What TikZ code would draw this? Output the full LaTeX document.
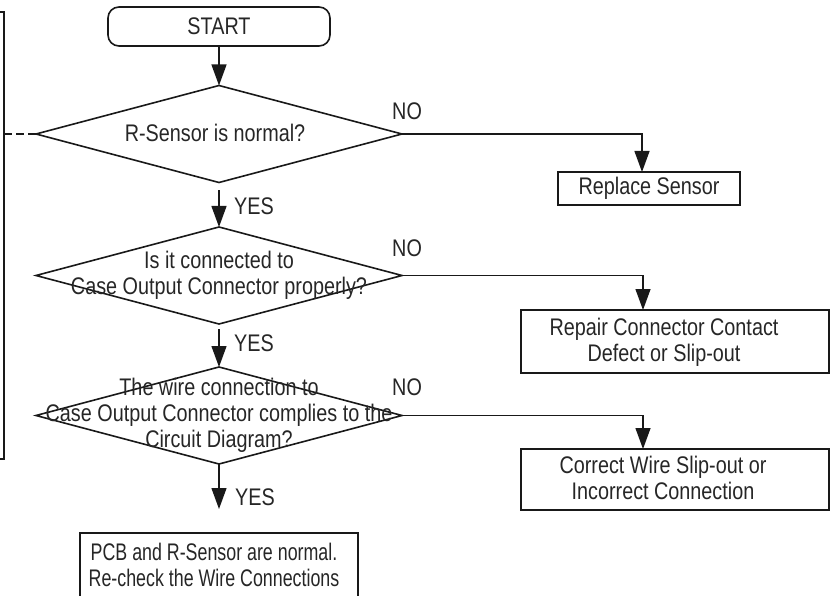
\documentclass[tikz,border=0pt]{standalone}
\usepackage{fontspec}
\setmainfont{Liberation Sans}[FakeStretch=0.825]
\usetikzlibrary{shapes.geometric,arrows.meta}

\tikzset{
  frame/.style={draw=black!90,line width=1.6pt,inner sep=0pt,outer sep=0pt},
  startbox/.style={frame,rounded corners=11pt,minimum width=222pt,minimum height=39pt},
  decision/.style={frame,diamond,minimum width=366pt,minimum height=97pt},
  actbox/.style={frame,rectangle},
  txt/.style={align=center,inner sep=0pt},
  yes/.style={txt,anchor=west},
  no/.style={txt,anchor=base west},
  flow/.style={draw=black!90,line width=1.3pt,-{Triangle[length=21pt,width=15pt]}}
}

\begin{document}
\begin{tikzpicture}[x=1pt,y=-1pt,text=black!85,font=\fontsize{24}{26}\selectfont]
\useasboundingbox (0,0) rectangle (830,596);

% start and the three checks
\node[startbox] (start) at (219,26.5) {START};
\node[decision] (d1) at (219,134) {};
\node[decision] (d2) at (219,275.5) {};
\node[decision] (d3) at (219,415.5) {};
\node[txt] (t1) at ([xshift=-4pt,yshift=1pt]d1.center) {R-Sensor is normal?};
\node[txt] (t2) at (d2) {Is it connected to\\Case Output Connector properly?};
\node[txt] (t3) at (d3) {The wire connection to\\Case Output Connector complies to the\\Circuit Diagram?};

% outcomes
\node[actbox,minimum width=182pt,minimum height=33pt] (replace) at (649,188.5) {Replace Sensor};
\node[actbox,minimum width=308pt,minimum height=63pt] (repair) at (675,341.5) {};
\node[txt] (t4) at (664,342.5) {Repair Connector Contact\\Defect or Slip-out};
\node[actbox,minimum width=308pt,minimum height=61pt] (correct) at (675,479.5) {};
\node[txt] (t5) at (663,478) {Correct Wire Slip-out or\\Incorrect Connection};
\node[actbox,minimum width=278pt,minimum height=77pt] (finish) at (219,571.5) {};
\node[txt,transform shape,xscale=0.9] (t6) at (214,564.5) {PCB and R-Sensor are normal.\\Re-check the Wire Connections};

% YES branch
\draw[flow] (start.south) -- (d1.north);
\draw[flow] ([yshift=-8pt]d1.south) -- (d2.north);
\draw[flow] ([yshift=-5pt]d2.south) -- (d3.north);
\draw[flow] (d3.south) -- ([yshift=24pt]finish.north);

\node[yes] (yes1) at (234,206) {YES};
\node[yes] (yes2) at (234,343) {YES};
\node[yes] (yes3) at (235,497) {YES};

% NO branch
\draw[flow] (d1.east) -| ([xshift=-7pt]replace.north);
\draw[flow] (d2.east) -| ([xshift=-32pt]repair.north);
\draw[flow] (d3.east) -| ([xshift=-32pt]correct.north);

\node[no] (no1) at ([xshift=-10pt,yshift=14pt]d1.east) {NO};
\node[no] (no2) at ([xshift=-10pt,yshift=19pt]d2.east) {NO};
\node[no] (no3) at ([xshift=-10pt,yshift=20pt]d3.east) {NO};

% left-hand frame, cut off
\coordinate (fb) at (4,134);
\draw[draw=black!90,line width=1.6pt] (-10,12) -- (4,12) -- (4,459) -- (-10,459);
\draw[draw=black!90,line width=1.2pt,dash pattern=on 8pt off 4pt] (fb) -- (d1.west);
\end{tikzpicture}
\end{document}
